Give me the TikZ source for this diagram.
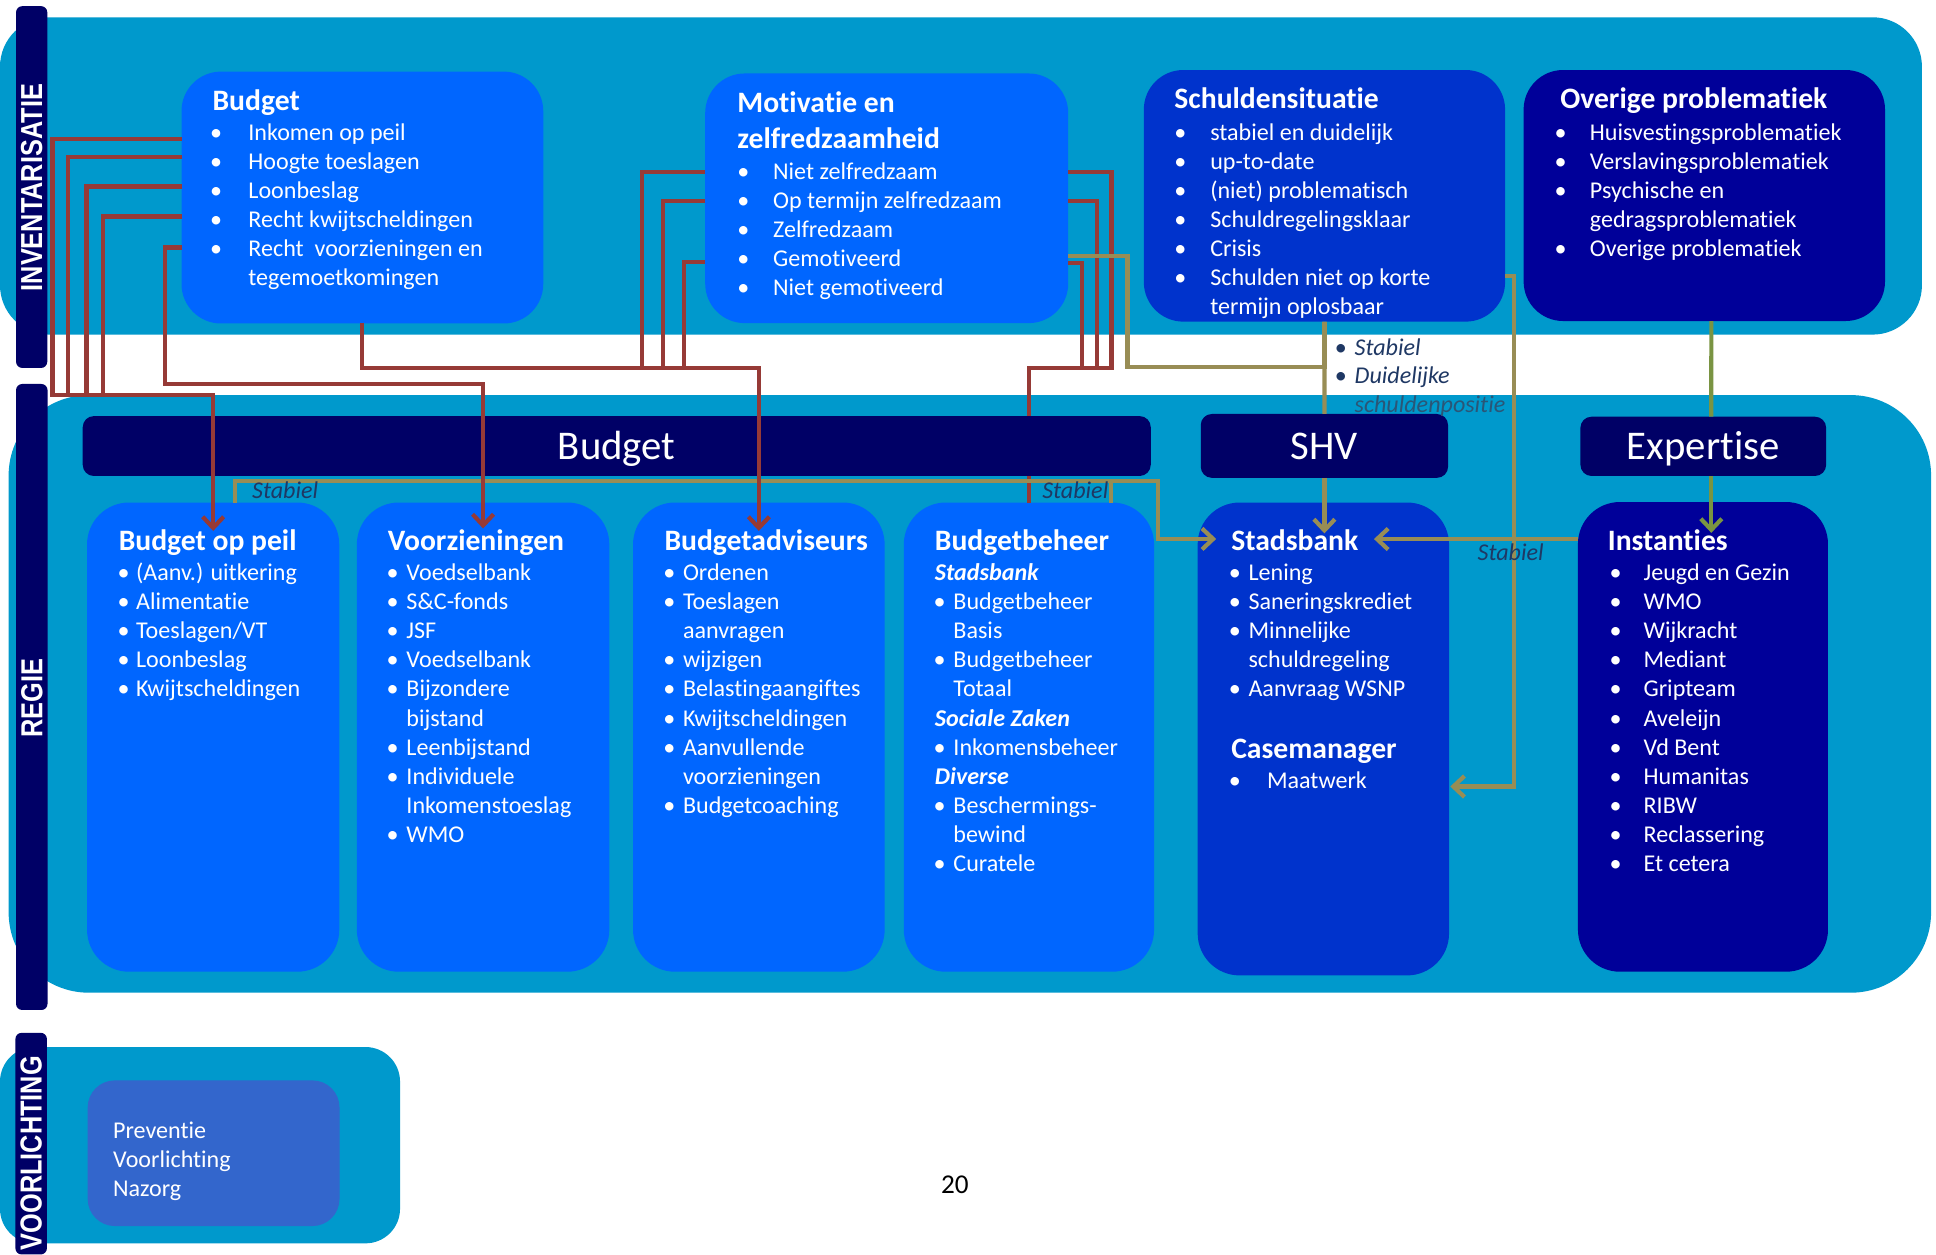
\documentclass[tikz,border=0pt]{standalone}
\usepackage{fontspec}
\setmainfont{Carlito}[Ligatures=NoCommon]
\newfontfamily\arialfont{Liberation Sans}
\usetikzlibrary{arrows.meta,calc}
\definecolor{cTeal}{HTML}{0099CC}
\definecolor{cLight}{HTML}{0066FF}
\definecolor{cMid}{HTML}{0033CC}
\definecolor{cDark}{HTML}{000099}
\definecolor{cNavy}{HTML}{000066}
\definecolor{cVoor}{HTML}{3366CC}
\definecolor{cRed}{HTML}{963A36}
\definecolor{cOlive}{HTML}{988D55}
\definecolor{cGreen}{HTML}{7A9442}
\definecolor{cLab}{HTML}{1F3864}
\definecolor{cLabDim}{HTML}{2A5677}
\newcommand\fs[1]{\fontsize{#1}{23.5}\selectfont}
\tikzset{
  panelfill/.style={fill=cTeal},
  sidebar/.style={fill=cNavy, rounded corners=5pt},
  bx/.style={inner sep=0pt, outer sep=0pt, rounded corners=34pt},
  hdr/.style={fill=cNavy, inner sep=0pt, outer sep=0pt, rounded corners=9pt, text=white, font=\fs{33}, text height=21.3pt, text depth=0pt},
  ttl/.style={anchor=base west, inner sep=0pt, text=white, font=\fs{24}\bfseries},
  itm/.style={anchor=base west, inner sep=0pt, text=white, font=\fs{19.5}},
  subhd/.style={anchor=base west, inner sep=0pt, text=white, font=\fs{19.5}\bfseries\itshape},
  lab/.style={anchor=base west, inner sep=0pt, text=cLab, font=\fs{19.5}\itshape},
  vlab/.style={rotate=90, inner sep=0pt, text=white, font=\arialfont\fontsize{20.5}{24}\selectfont\bfseries},
  rline/.style={draw=cRed, line width=3.4pt},
  oline/.style={draw=cOlive, line width=3.4pt},
  gline/.style={draw=cGreen, line width=3.4pt},
  arr/.style={-{Straight Barb[length=9pt,width=17pt]}},
}
\newcommand\mylist[6]{%
  \foreach \ityp/\itxt [count=\i from 0] in {#6} {%
    \ifnum\ityp=1
      \node[itm] (#1b\i) at (#2,{#4+#5*\i}) {\textbullet};
    \fi
    \ifnum\ityp=2
      \node[subhd] (#1\i) at ({#2+1},{#4+#5*\i}) {\itxt};
    \else
      \node[itm] (#1\i) at (#3,{#4+#5*\i}) {\itxt};
    \fi
  }%
}
\begin{document}
\begin{tikzpicture}[x=1pt,y=-1pt]
\useasboundingbox[fill=white] (0,0) rectangle (1568,1016);

% panels
\path[panelfill, rounded corners=40pt] (0,14) rectangle (1556.6,271);
\path[panelfill, rounded corners=65pt] (7,320) rectangle (1564,804);
\path[panelfill, rounded corners=28pt] (0,848) rectangle (324,1007);

% side bars
\path[sidebar] (13,5) rectangle (38.3,298);
\path[sidebar] (13,311) rectangle (38.5,818);
\path[sidebar] (12.5,836.5) rectangle (38,1016);
\node[vlab] (linv) at (25.6,152) {\scalebox{1}[1.2]{INVENTARISATIE}};
\node[vlab] (lreg) at (25.8,565.5) {\scalebox{1}[1.2]{REGIE}};
\node[vlab] (lvoo) at (25.3,934) {\scalebox{1}[1.2]{VOORLICHTING}};

% voorlichting box
\node[bx, rounded corners=22pt, fill=cVoor, minimum width=204pt, minimum height=118pt] (vbox) at (173,934) {};
\mylist{vl}{91.4}{91.4}{921.8}{23.5}{0/Preventie, 0/Voorlichting, 0/Nazorg}
\node[anchor=base west, inner sep=0pt, font=\fs{22}] (pnum) at (762,966.6) {20};

% row 3 boxes
\node[bx, fill=cLight, minimum width=204.3pt, minimum height=380pt] (bop) at (172.65,597) {};
\node[bx, fill=cLight, minimum width=204.5pt, minimum height=380pt] (voo) at (391.25,597) {};
\node[bx, fill=cLight, minimum width=203.8pt, minimum height=380pt] (bad) at (614.6,597) {};
\node[bx, fill=cLight, minimum width=202.7pt, minimum height=380pt] (bbh) at (833.35,597) {};
\node[bx, fill=cMid, minimum width=203.6pt, minimum height=383pt] (sb) at (1071.8,598.5) {};
\node[bx, fill=cDark, minimum width=202.5pt, minimum height=380.4pt] (ins) at (1379.25,596.8) {};

% row 3 texts
\node[ttl] (bopt) at (96,445.5) {Budget op peil};
\mylist{bopl}{95}{110}{470.5}{23.5}{1/(Aanv.) uitkering, 1/Alimentatie, 1/{Toeslagen/VT}, 1/Loonbeslag, 1/Kwijtscheldingen}
\node[ttl] (voot) at (314,445.5) {Voorzieningen};
\mylist{vool}{313}{329}{470.5}{23.5}{1/Voedselbank, 1/S\&C-fonds, 1/JSF, 1/Voedselbank, 1/Bijzondere, 0/bijstand, 1/Leenbijstand, 1/Individuele, 0/Inkomenstoeslag, 1/WMO}
\node[ttl] (badt) at (538,445.5) {Budgetadviseurs};
\mylist{badl}{537}{553}{470.5}{23.5}{1/Ordenen, 1/Toeslagen, 0/aanvragen, 1/wijzigen, 1/Belastingaangiftes, 1/Kwijtscheldingen, 1/Aanvullende, 0/voorzieningen, 1/Budgetcoaching}
\node[ttl] (bbht) at (757,445.5) {Budgetbeheer};
\mylist{bbhl}{756}{772}{470.5}{23.5}{2/Stadsbank, 1/Budgetbeheer, 0/Basis, 1/Budgetbeheer, 0/Totaal, 2/Sociale Zaken, 1/Inkomensbeheer, 2/Diverse, 1/Beschermings-, 0/bewind, 1/Curatele}
\node[ttl] (sbt) at (997,445.5) {Stadsbank};
\mylist{sbl}{995}{1011}{470.5}{23.5}{1/Lening, 1/Saneringskrediet, 1/Minnelijke, 0/schuldregeling, 1/Aanvraag WSNP}
\node[ttl] (cmt) at (997,614) {Casemanager};
\mylist{cml}{995}{1026}{639}{23.5}{1/Maatwerk}
\node[ttl] (inst) at (1302,445.5) {Instanties};
\mylist{insl}{1303.5}{1331}{470.5}{23.5}{1/Jeugd en Gezin, 1/WMO, 1/Wijkracht, 1/Mediant, 1/Gripteam, 1/Aveleijn, 1/Vd Bent, 1/Humanitas, 1/RIBW, 1/Reclassering, 1/Et cetera}

% top row boxes
\node[bx, rounded corners=32pt, fill=cLight, minimum width=293pt, minimum height=204pt] (bud) at (293.5,160) {};
\node[bx, rounded corners=32pt, fill=cLight, minimum width=294pt, minimum height=202.2pt] (mot) at (718.15,160.6) {};
\node[bx, rounded corners=32pt, fill=cMid, minimum width=292.6pt, minimum height=203.8pt] (sch) at (1072.7,158.6) {};
\node[bx, rounded corners=32pt, fill=cDark, minimum width=292.7pt, minimum height=203.3pt] (ovr) at (1380.35,158.35) {};

% red connectors passing under the Budget header
\draw[rline] ($(mot.north east)+(0,79.5)$) -- ++(35,0) -- ++(0,159) -| (bbh.north);
\draw[rline] ($(mot.north east)+(0,103.5)$) -- ++(23,0) -- ++(0,135);
\draw[rline] ($(mot.north east)+(0,153.5)$) -- ++(11,0) -- ++(0,84.5);

% headers
\node[hdr, minimum width=865pt, minimum height=48.5pt] (hbud) at (499.5,361.25) {Budget};
\node[hdr, minimum width=200.3pt, minimum height=51.7pt] (hshv) at (1072.65,361.15) {SHV};
\node[hdr, minimum width=199pt, minimum height=48pt] (hexp) at (1379.5,361.5) {Expertise};

% olive connectors
\draw[oline] ($(mot.north east)+(0,148)$) -- ++(48,0) -- ++(0,89.5) -| (sch.south);
\draw[oline] (sch.south) -- (hshv.north);
\draw[oline, arr] (hshv.south) -- ($(hshv.south |- sb.north)+(0,25)$);
\draw[oline, arr] ($(sch.north east)+(0,166.8)$) -- ++(7,0) |- ($(sb.north east)+(1,230)$);
\draw[oline, arr] ($(ins.north west)+(0,30)$) -- ($(sb.north)+(41,29.6)$);
\draw[oline, arr] ($(bop.north)+(17.4,0)$) -- ++(0,-17.5) -- ++(747.5,0) |- ($(sb.north west)+(15,29.5)$);
\draw[oline] ($(bbh.north)+(66.6,0)$) -- ++(0,-17.5);
\draw[gline] ($(ovr.south)+(5.7,0)$) -- ($(hexp.north)+(6.5,0)$);
\draw[gline, arr] ($(hexp.south)+(6.5,0)$) -- ($(ins.north)+(6.75,25)$);

% red connectors with arrows
\draw[rline, arr] ($(bud.north west)+(0,54.8)$) -- ++(-104.5,0) -- ++(0,206.8) -| ($(bop.north)+(0,23)$);
\draw[rline] ($(bud.north west)+(0,69.2)$) -- ++(-92,0) -- ++(0,192.4);
\draw[rline] ($(bud.north west)+(0,93)$) -- ++(-77,0) -- ++(0,168.6);
\draw[rline] ($(bud.north west)+(0,117.3)$) -- ++(-63.7,0) -- ++(0,144.3);
\draw[rline, arr] ($(bud.north west)+(0,142.5)$) -- ++(-13.3,0) -- ++(0,110.5) -| ($(voo.north)+(0,21)$);
\draw[rline, arr] (bud.south) -- ++(0,36) -| ($(bad.north)+(0,23)$);
\draw[rline] ($(mot.north west)+(0,79.5)$) -- ++(-51.3,0) -- ++(0,159);
\draw[rline] ($(mot.north west)+(0,103.5)$) -- ++(-34.3,0) -- ++(0,135);
\draw[rline] ($(mot.north west)+(0,152.5)$) -- ++(-17.3,0) -- ++(0,86);

% connector labels
\node[lab] (st1) at (204,403.5) {Stabiel};
\node[lab] (st2) at (844,404) {Stabiel};
\node[lab] (st3) at (1196.6,453.6) {Stabiel};
\node[lab, font=\fs{19.5}] (sdb1) at (1081,288.3) {\textbullet};
\node[lab] (sd1) at (1097,288.3) {Stabiel};
\node[lab, font=\fs{19.5}] (sdb2) at (1081,311) {\textbullet};
\node[lab] (sd2) at (1097,311) {Duidelijke};
\node[lab, text=cLabDim] (sd3) at (1097,334) {schuldenpositie};

% top row texts
\node[ttl] (budt) at (172,89.5) {Budget};
\mylist{budl}{170}{201}{114}{23.5}{1/Inkomen op peil, 1/Hoogte toeslagen, 1/Loonbeslag, 1/Recht kwijtscheldingen, 1/Recht\ \ voorzieningen en, 0/tegemoetkomingen}
\node[ttl] (mott1) at (597,91.3) {Motivatie en};
\node[ttl] (mott2) at (597,120) {zelfredzaamheid};
\mylist{motl}{597}{626}{145}{23.5}{1/Niet zelfredzaam, 1/Op termijn zelfredzaam, 1/Zelfredzaam, 1/Gemotiveerd, 1/Niet gemotiveerd}
\node[ttl] (scht) at (951,87.6) {Schuldensituatie};
\mylist{schl}{951}{980}{113.4}{23.5}{1/stabiel en duidelijk, 1/up-to-date, 1/(niet) problematisch, 1/Schuldregelingsklaar, 1/Crisis, 1/Schulden niet op korte, 0/termijn oplosbaar}
\node[ttl] (ovrt) at (1263.5,87.6) {Overige problematiek};
\mylist{ovrl}{1259}{1287.5}{113.4}{23.5}{1/Huisvestingsproblematiek, 1/Verslavingsproblematiek, 1/Psychische en, 0/gedragsproblematiek, 1/Overige problematiek}
\end{tikzpicture}
\end{document}
